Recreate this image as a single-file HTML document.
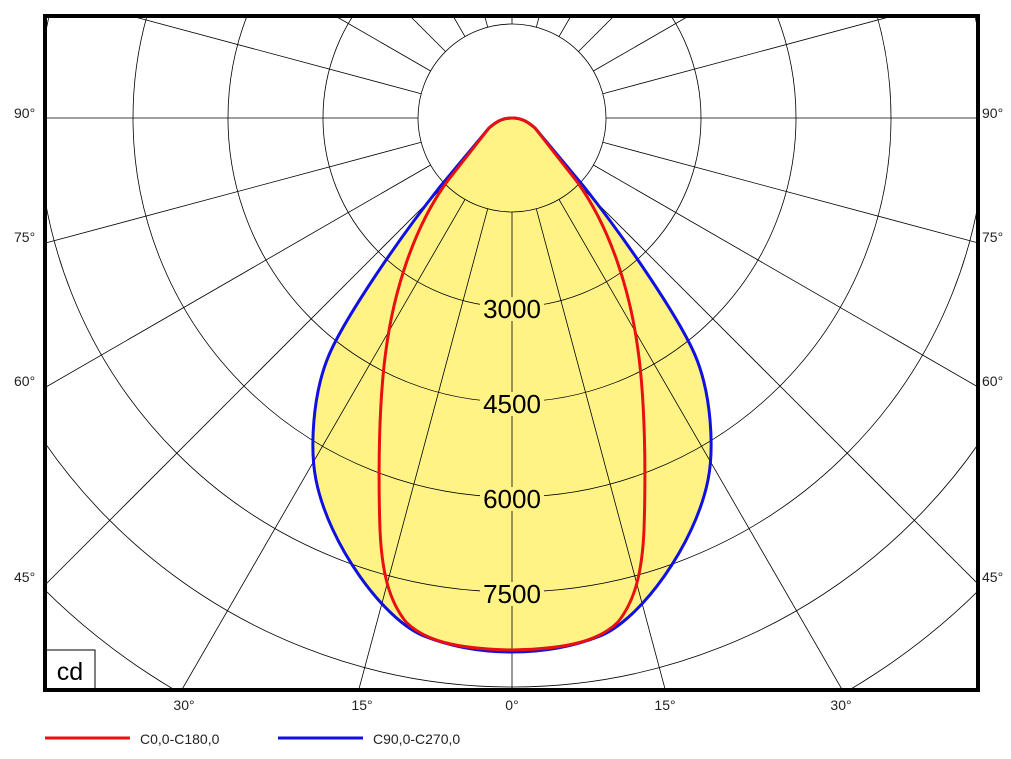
<!DOCTYPE html>
<html><head><meta charset="utf-8"><style>html,body{margin:0;padding:0;background:#fff;overflow:hidden;width:1011px;height:759px}svg{display:block;font-family:"Liberation Sans",sans-serif}</style></head><body>
<svg width="1011" height="759" viewBox="0 0 1011 759">
<defs>
<path id="bl" d="M512,118 C522,118 528,122 535,128 L585,188 C630,245 680,320 695,355 C712,395 714,450 708,480 C695,545 640,620 600,636 C570,648 540,652 512,652"/>
<path id="rd" d="M512,118 C522,118 528,122 535,128 L578,183 C610,228 630,290 638,350 C645,400 646,470 644,530 C642,575 634,602 618,622 C600,640 570,649 512,650"/>
</defs>
<svg x="45" y="16" width="933" height="674" viewBox="45 16 933 674" overflow="hidden">
<path d="M512,118 C522,118 528,122 535,128 L585,188 C630,245 680,320 695,355 C712,395 714,450 708,480 C695,545 640,620 600,636 C570,648 540,652 512,652 C484,652 454,648 424,636 C384,620 329,545 316,480 C310,450 312,395 329,355 C344,320 394,245 439,188 L489,128 C496,122 502,118 512,118Z" fill="#fff385"/>
<g stroke="#000" stroke-width="0.8" fill="none">
<circle cx="512" cy="118" r="94"/><circle cx="512" cy="118" r="189"/><circle cx="512" cy="118" r="284"/><circle cx="512" cy="118" r="379"/><circle cx="512" cy="118" r="474"/><circle cx="512" cy="118" r="569"/><circle cx="512" cy="118" r="664"/>
<line x1="512" y1="212" x2="512" y2="690"/>
<line x1="536.3" y1="208.8" x2="665.3" y2="690"/><line x1="487.7" y1="208.8" x2="358.7" y2="690"/>
<line x1="559" y1="199.4" x2="842.3" y2="690"/><line x1="465" y1="199.4" x2="181.7" y2="690"/>
<line x1="578.5" y1="184.5" x2="978" y2="584"/><line x1="445.5" y1="184.5" x2="46" y2="584"/>
<line x1="593.4" y1="165" x2="978" y2="387"/><line x1="430.6" y1="165" x2="46" y2="387"/>
<line x1="602.8" y1="142.3" x2="978" y2="242.9"/><line x1="421.2" y1="142.3" x2="46" y2="242.9"/>
<line x1="606" y1="118" x2="978" y2="118"/><line x1="418" y1="118" x2="46" y2="118"/>
<line x1="602.8" y1="93.7" x2="892.7" y2="16"/><line x1="421.2" y1="93.7" x2="131.3" y2="16"/>
<line x1="593.4" y1="71" x2="688.7" y2="16"/><line x1="430.6" y1="71" x2="335.3" y2="16"/>
<line x1="578.5" y1="51.5" x2="614" y2="16"/><line x1="445.5" y1="51.5" x2="410" y2="16"/>
<line x1="559" y1="36.6" x2="570.9" y2="16"/><line x1="465" y1="36.6" x2="453.1" y2="16"/>
<line x1="536.3" y1="27.2" x2="539.3" y2="16"/><line x1="487.7" y1="27.2" x2="484.7" y2="16"/>
<line x1="512" y1="24" x2="512" y2="16"/>
</g>
</svg>
<g fill="none" stroke-width="3">
<use href="#bl" stroke="#1010e0"/><use href="#bl" stroke="#1010e0" transform="translate(1024,0) scale(-1,1)"/>
<use href="#rd" stroke="#e81010"/><use href="#rd" stroke="#e81010" transform="translate(1024,0) scale(-1,1)"/>
</g>
<g fill="#fff385"><rect x="480" y="297" width="64" height="24"/><rect x="480" y="392" width="64" height="24"/><rect x="480" y="487" width="64" height="24"/><rect x="480" y="582" width="64" height="24"/></g>
<g font-size="26" text-anchor="middle"><text x="512" y="318">3000</text><text x="512" y="413">4500</text><text x="512" y="508">6000</text><text x="512" y="603">7500</text></g>
<rect x="45" y="650" width="50" height="40" fill="#fff" stroke="#000" stroke-width="1"/>
<text x="70" y="680" font-size="25" text-anchor="middle">cd</text>
<rect x="45" y="16" width="933" height="674" fill="none" stroke="#000" stroke-width="4"/>
<g font-size="14" fill="#222">
<text x="14" y="118">90°</text><text x="14" y="242">75°</text><text x="14" y="386">60°</text><text x="14" y="582">45°</text>
<text x="982" y="118">90°</text><text x="982" y="242">75°</text><text x="982" y="386">60°</text><text x="982" y="582">45°</text>
<g text-anchor="middle"><text x="184" y="710">30°</text><text x="362" y="710">15°</text><text x="512" y="710">0°</text><text x="665" y="710">15°</text><text x="841" y="710">30°</text></g>
<text x="140" y="744">C0,0-C180,0</text><text x="373" y="744">C90,0-C270,0</text>
</g>
<line x1="45" y1="738" x2="130" y2="738" stroke="#e81010" stroke-width="3"/>
<line x1="278" y1="738" x2="363" y2="738" stroke="#1010e0" stroke-width="3"/>
</svg>
</body></html>
